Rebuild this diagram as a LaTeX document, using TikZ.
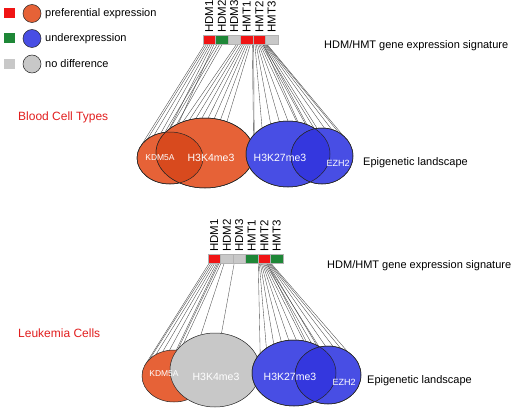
\documentclass[tikz,border=0pt]{standalone}
\usepackage{fontspec}
\setmainfont{Liberation Sans}
\usetikzlibrary{shapes.geometric,calc,backgrounds,positioning}
\definecolor{upred}{RGB}{240,20,20}
\definecolor{downgreen}{RGB}{30,135,55}
\definecolor{nogray}{RGB}{200,200,200}
\definecolor{upor}{RGB}{230,98,55}
\definecolor{downbl}{RGB}{72,78,228}
\definecolor{ovor}{RGB}{216,74,30}
\definecolor{ovbl}{RGB}{52,55,222}
\definecolor{titlered}{RGB}{225,30,30}
\tikzset{
  cell/.style={rectangle, minimum width=12.5pt, minimum height=9pt, inner sep=0pt, outer sep=0pt, draw=black!30, line width=0.3pt},
  gene/.style={rotate=90, anchor=west, inner sep=0pt, font=\fontsize{11.5}{13}\selectfont},
  blob/.style={ellipse, inner sep=0pt, outer sep=0pt, draw=black!85, line width=0.5pt},
  rim/.style={draw=black!85, line width=0.5pt},
  wire/.style={draw=black!72, line width=0.35pt},
  inlbl/.style={text=white, inner sep=0pt},
  side/.style={anchor=west, inner sep=0pt, font=\fontsize{11}{13}\selectfont},
  title/.style={anchor=west, inner sep=0pt, text=titlered, font=\fontsize{12}{14}\selectfont}
}
\begin{document}
\begin{tikzpicture}[x=1pt, y=-1pt]
  \useasboundingbox (0,0) rectangle (514,420);
  % legend
  \foreach \sq/\ci/\tx/\y [count=\i] in {upred/upor/preferential expression/13.5, downgreen/downbl/underexpression/38.5, nogray/nogray/no difference/64} {
    \node[cell, draw=none, fill=\sq, minimum width=11pt, minimum height=10pt] (lsq\i) at (9,\y) {};
    \node[blob, fill=\ci, minimum size=18pt, right=8.5pt of lsq\i] (lci\i) {};
    \node[side, right=4pt of lci\i] (ltx\i) {\tx};
  }
  % blood cell types
  \node[title] (tblood) at (18,117) {Blood Cell Types};
  \foreach \c/\g [count=\i] in {upred/HDM1, downgreen/HDM2, nogray/HDM3, upred/HMT1, upred/HMT2, nogray/HMT3} {
    \node[cell, fill=\c] (a\i) at ({196.75+12.5*\i}, 39.5) {};
    \node[gene] (ga\i) at ([yshift=2pt]a\i.north) {\g};
  }
  \node[side] (sigA) at (324,46) {HDM/HMT gene expression signature};
  \node[blob, fill=upor, minimum width=66pt, minimum height=52pt] (kdmA) at (170,158) {};
  \node[blob, fill=upor, minimum width=98pt, minimum height=70pt] (hkfA) at (205,153) {};
  \begin{scope}
    \clip (kdmA.center) ellipse [x radius=33pt, y radius=26pt];
    \fill[ovor] (hkfA.center) ellipse [x radius=49pt, y radius=35pt];
  \end{scope}
  \draw[rim] (kdmA.center) ellipse [x radius=33pt, y radius=26pt] (hkfA.center) ellipse [x radius=49pt, y radius=35pt];
  \node[blob, fill=downbl, minimum width=84pt, minimum height=66pt] (hktA) at (288,154) {};
  \node[blob, fill=downbl, minimum width=62pt, minimum height=56pt] (ezhA) at (322,156) {};
  \begin{scope}
    \clip (hktA.center) ellipse [x radius=42pt, y radius=33pt];
    \fill[ovbl] (ezhA.center) ellipse [x radius=31pt, y radius=28pt];
  \end{scope}
  \draw[rim] (hktA.center) ellipse [x radius=42pt, y radius=33pt] (ezhA.center) ellipse [x radius=31pt, y radius=28pt];
  \node[inlbl, font=\fontsize{8.5}{10}\selectfont] (lkdmA) at ([xshift=-10pt]kdmA.center) {KDM5A};
  \node[inlbl, font=\fontsize{10.5}{12}\selectfont] (lhkfA) at ([xshift=6pt, yshift=-5pt]hkfA.center) {H3K4me3};
  \node[inlbl, font=\fontsize{10.5}{12}\selectfont] (lhktA) at ([xshift=-8pt, yshift=-4pt]hktA.center) {H3K27me3};
  \node[inlbl, font=\fontsize{9}{10}\selectfont] (lezhA) at ([xshift=16pt, yshift=-7pt]ezhA.center) {EZH2};
  \node[side] (landA) at (363,163) {Epigenetic landscape};
  \begin{scope}[on background layer]
    \foreach \s/\f/\t/\a in {a1/0.15/kdmA/155, a1/0.3/kdmA/140, a1/0.45/kdmA/125, a1/0.6/kdmA/110, a1/0.75/kdmA/95, a1/0.9/kdmA/80,
      a2/0.15/hkfA/155, a2/0.35/hkfA/145, a2/0.55/hkfA/135, a3/0.7/hkfA/125, a3/0.85/hkfA/115, a4/0.05/hkfA/105, a4/0.2/hkfA/95,
      a4/0.35/hkfA/85, a4/0.5/hkfA/75, a4/0.65/hkfA/65, a4/0.8/hkfA/55, a4/0.95/hkfA/5,
      a5/0.05/hktA/150, a5/0.15/hktA/135, a5/0.25/hktA/120, a5/0.35/hktA/105, a5/0.45/hktA/90, a5/0.55/hktA/75, a5/0.65/hktA/60, a5/0.75/hktA/45,
      a5/0.8/ezhA/130, a5/0.85/ezhA/115, a5/0.9/ezhA/100, a5/0.95/ezhA/85, a6/0.0/ezhA/70, a6/0.05/ezhA/55, a6/0.1/ezhA/45}
      \draw[wire] ($(\s.south west)!\f!(\s.south east)$) -- (\t.\a);
  \end{scope}
  % leukemia cells
  \node[title] (tleuk) at (18,333) {Leukemia Cells};
  \foreach \c/\g [count=\i] in {upred/HDM1, nogray/HDM2, nogray/HDM3, downgreen/HMT1, upred/HMT2, downgreen/HMT3} {
    \node[cell, fill=\c] (b\i) at ({201.75+12.5*\i}, 258.5) {};
    \node[gene] (gb\i) at ([yshift=2pt]b\i.north) {\g};
  }
  \node[side] (sigB) at (327,266) {HDM/HMT gene expression signature};
  \node[blob, fill=upor, minimum width=64pt, minimum height=52pt] (kdmB) at (174,376) {};
  \node[blob, fill=nogray, minimum width=90pt, minimum height=74pt] (hkfB) at (215,370) {};
  \node[blob, fill=downbl, minimum width=84pt, minimum height=66pt] (hktB) at (294,373) {};
  \node[blob, fill=downbl, minimum width=66pt, minimum height=58pt] (ezhB) at (328,375) {};
  \begin{scope}
    \clip (hktB.center) ellipse [x radius=42pt, y radius=33pt];
    \fill[ovbl] (ezhB.center) ellipse [x radius=33pt, y radius=29pt];
  \end{scope}
  \draw[rim] (hktB.center) ellipse [x radius=42pt, y radius=33pt] (ezhB.center) ellipse [x radius=33pt, y radius=29pt];
  \node[inlbl, font=\fontsize{8.5}{10}\selectfont] (lkdmB) at ([xshift=-10pt, yshift=2pt]kdmB.center) {KDM5A};
  \node[inlbl, font=\fontsize{10.5}{12}\selectfont] (lhkfB) at ([xshift=1pt, yshift=-7pt]hkfB.center) {H3K4me3};
  \node[inlbl, font=\fontsize{10.5}{12}\selectfont] (lhktB) at ([xshift=-4pt, yshift=-4pt]hktB.center) {H3K27me3};
  \node[inlbl, font=\fontsize{9}{10}\selectfont] (lezhB) at ([xshift=16pt, yshift=-7pt]ezhB.center) {EZH2};
  \node[side] (landB) at (367,381) {Epigenetic landscape};
  \begin{scope}[on background layer]
    \foreach \s/\f/\t/\a in {b1/0.1/kdmB/160, b1/0.25/kdmB/145, b1/0.4/kdmB/130, b1/0.55/kdmB/115, b1/0.7/kdmB/100,
      b1/0.8/hkfB/160, b1/0.9/hkfB/150, b2/0.05/hkfB/140, b2/0.3/hkfB/112, b3/0.1/hkfB/80,
      b5/0.02/hktB/150, b5/0.1/hktB/138, b5/0.18/hktB/125, b5/0.26/hktB/112, b5/0.34/hktB/99, b5/0.42/hktB/86, b5/0.5/hktB/73,
      b5/0.58/hktB/60, b5/0.66/hktB/47, b5/0.72/ezhB/125, b5/0.78/ezhB/110, b5/0.84/ezhB/95, b5/0.9/ezhB/80, b5/0.96/ezhB/65, b6/0.02/ezhB/50}
      \draw[wire] ($(\s.south west)!\f!(\s.south east)$) -- (\t.\a);
  \end{scope}
\end{tikzpicture}
\end{document}
